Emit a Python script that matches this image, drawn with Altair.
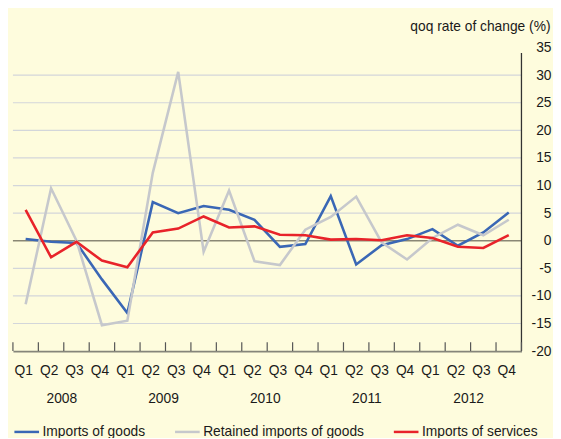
import altair as alt
import pandas as pd

quarters = ["Q1", "Q2", "Q3", "Q4"] * 5
years = ["2008", "2009", "2010", "2011", "2012"]
series_names = ["Imports of goods", "Retained imports of goods", "Imports of services"]

goods = [0.3, -0.2, -0.4, -7.0, -13.1, 7.0, 5.0, 6.3, 5.6, 3.8,
         -1.1, -0.6, 8.1, -4.3, -0.8, 0.3, 2.1, -0.9, 1.5, 5.1]
retained = [-11.5, 9.5, 0.0, -15.3, -14.5, 12.3, 30.6, -2.0, 9.1, -3.7,
            -4.4, 2.0, 4.3, 8.0, -0.3, -3.4, 0.5, 2.9, 1.0, 3.8]
services = [5.6, -3.0, -0.2, -3.6, -4.8, 1.5, 2.2, 4.4, 2.4, 2.6,
            1.1, 1.0, 0.2, 0.3, 0.1, 1.0, 0.5, -1.1, -1.3, 1.0]

colors = ["#3a67b5", "#c6c8cc", "#e8232a"]

rows = []
for name, vals in zip(series_names, [goods, retained, services]):
    for i, v in enumerate(vals):
        rows.append({"i": i, "q": quarters[i], "series": name, "value": v})
df = pd.DataFrame(rows)

W, H = 516, 308
FONT = "Liberation Sans"
FS = 14

n = len(quarters)
bounds = [b - 0.5 for b in range(n + 1)]
tick_df = pd.DataFrame({"i": bounds})
year_df = pd.DataFrame({"i": [4 * k + 1.5 for k in range(len(years))], "year": years})
grid_vals = [-15, -10, -5, 5, 10, 15, 20, 25, 30]
grid_df = pd.DataFrame({"value": grid_vals})
y_ticks = [-20, -15, -10, -5, 0, 5, 10, 15, 20, 25, 30, 35]
yline_df = pd.DataFrame({"value": [-20], "top": [34]})

label_expr = "datum.value < 19 ? 'Q' + (floor(datum.value + 0.5) % 4 + 1) : ''"

xscale = alt.Scale(domain=[-0.5, n - 0.5], nice=False, zero=False)
yscale = alt.Scale(domain=[-20, 35], nice=False)

x_axis = alt.Axis(values=bounds, labelExpr=label_expr, labelOffset=W / n / 2 - 2.5,
                  ticks=False, tickSize=0, grid=False, title=None,
                  domainColor="#85857a", domainWidth=2,
                  labelPadding=13, labelFontSize=FS, labelColor="#1a1a1a",
                  labelFont=FONT, labelFlush=False,
                  labelOverlap=False, labelBound=False)
y_axis = alt.Axis(orient="right", values=y_ticks, domain=False,
                  labelExpr="'' + datum.value", ticks=False, tickSize=0, grid=False,
                  labelAlign="right", labelPadding=30, labelFontSize=FS,
                  labelColor="#1a1a1a", labelFont=FONT,
                  labelFlush=False, labelOverlap=False, labelBound=False,
                  title="qoq rate of change (%)", titleAngle=0, titleAlign="right",
                  titleBaseline="middle", titleX=29, titleY=-21,
                  titleFontSize=FS, titleFontWeight="normal",
                  titleFont=FONT, titleColor="#1a1a1a")

X = lambda: alt.X("i:Q", scale=xscale, axis=x_axis, title=None)
Y = lambda: alt.Y("value:Q", scale=yscale, axis=y_axis, title="qoq rate of change (%)")

grid = alt.Chart(grid_df).mark_rule(color="#d3d6da", strokeWidth=1.2).encode(
    y=Y(), x=alt.value(0), x2=alt.value(W),
)

zero = alt.Chart(pd.DataFrame({"value": [0]})).mark_rule(color="#8a8775", strokeWidth=1.6).encode(
    y=Y(), x=alt.value(0), x2=alt.value(W),
)

yline = alt.Chart(yline_df).mark_rule(color="#333333", strokeWidth=1.3).encode(
    y=Y(), y2="top:Q", x=alt.value(W),
)

ticks = alt.Chart(tick_df).mark_rule(color="#555555", strokeWidth=1.2).encode(
    x=X(), y=alt.value(H - 9), y2=alt.value(H),
)

lines = alt.Chart(df).mark_line(strokeWidth=2.6).encode(
    x=X(),
    y=Y(),
    color=alt.Color("series:N", sort=series_names,
                    scale=alt.Scale(domain=series_names, range=colors),
                    legend=alt.Legend(orient="none", legendX=0, legendY=376,
                                      direction="horizontal", columns=3,
                                      gridAlign="none", columnPadding=24,
                                      padding=0,
                                      symbolType="stroke", symbolSize=625,
                                      symbolStrokeWidth=2.5, labelOffset=2,
                                      labelFontSize=FS, labelFont=FONT,
                                      labelColor="#1a1a1a", title=None,
                                      labelLimit=300)),
    order=alt.Order("i:Q"),
)

year_text = alt.Chart(year_df).mark_text(fontSize=FS, font=FONT, dx=-2,
                                         color="#1a1a1a", baseline="middle").encode(
    x=X(), y=alt.value(357), text="year:N",
)

chart = alt.layer(grid, zero, yline, ticks, lines, year_text).properties(
    width=W, height=H,
    autosize="none",
    padding={"left": 5, "top": 37, "right": 32, "bottom": 85},
    background="#fefcdd",
).configure_view(stroke=None)

chart.save("out.html", embed_options={"renderer": "svg", "actions": False})
